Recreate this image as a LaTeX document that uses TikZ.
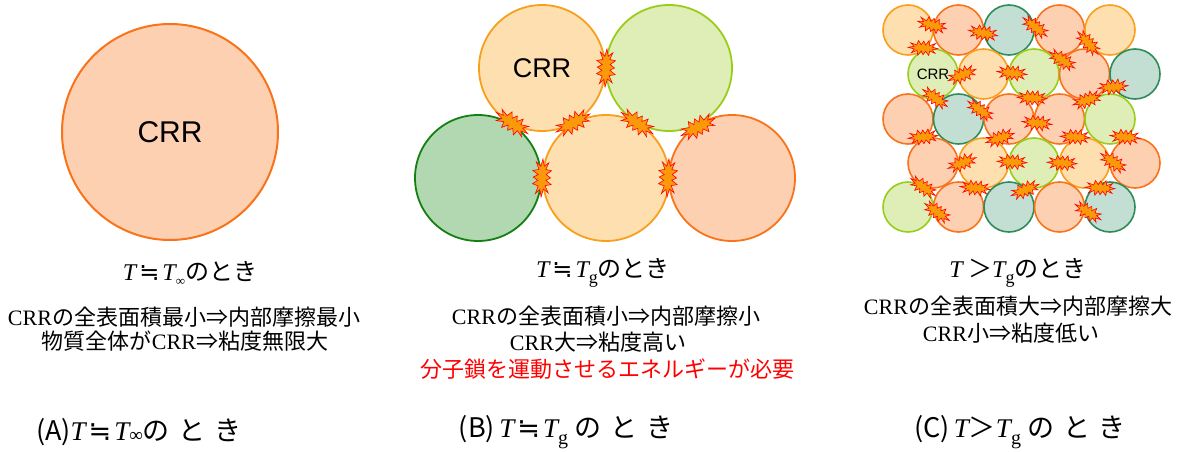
\documentclass[tikz,border=0pt]{standalone}
\usepackage{fontspec}
\setmainfont{Liberation Serif}
\newfontfamily\jp{Noto Sans CJK JP}
\newfontfamily\tms{Liberation Serif}
\newfontfamily\arialf{Liberation Sans}
\newfontfamily\djv{DejaVu Sans}
% fills (F) and outlines (D) of the region discs
\definecolor{peF}{HTML}{FDD0B2}\definecolor{peD}{HTML}{F9731A}
\definecolor{loF}{HTML}{FDDFB0}\definecolor{loD}{HTML}{F8A01C}
\definecolor{lgF}{HTML}{DFEDB6}\definecolor{lgD}{HTML}{9ACD1A}
\definecolor{grF}{HTML}{B2D8B2}\definecolor{grD}{HTML}{138013}
\definecolor{teF}{HTML}{C3DFD3}\definecolor{teD}{HTML}{2E8B5A}
\definecolor{sparkF}{HTML}{FA9A0A}
\newcommand\Tit{{\tms\itshape T}}
\newcommand\approxdot{\kern3pt{\djv ≒}\kern3pt}
\newcommand\lowsub[2]{\raisebox{#1}{\tms\fontsize{#2}{#2}\selectfont g}}
\begin{document}
\begin{tikzpicture}[x=1pt,y=-1pt,
  disc/.style={circle, inner sep=0pt, minimum size=#1, draw=\tone D, fill=\tone F},
  head/.style={font=\jp\fontsize{24}{26}\selectfont, inner sep=0pt},
  body/.style={font=\jp\fontsize{22}{24}\selectfont, inner sep=0pt},
  tag/.style={font=\jp\fontsize{27}{30}\selectfont, inner sep=0pt},
  spark/.pic={
    \filldraw[draw=red, fill=sparkF, line width=0.6pt, line join=miter]
      (1.00,0.05) -- (0.62,0.12) -- (0.80,0.36) -- (0.45,0.20) -- (0.38,0.50)
      -- (0.18,0.22) -- (0.00,0.45) -- (-0.12,0.20) -- (-0.35,0.48) -- (-0.40,0.16)
      -- (-0.78,0.32) -- (-0.58,0.07) -- (-1.00,-0.05) -- (-0.60,-0.11)
      -- (-0.82,-0.35) -- (-0.42,-0.20) -- (-0.30,-0.50) -- (-0.12,-0.22)
      -- (0.05,-0.46) -- (0.18,-0.20) -- (0.40,-0.48) -- (0.45,-0.16)
      -- (0.85,-0.30) -- (0.62,-0.06) -- cycle;
  }]
\useasboundingbox (0,0) rectangle (1184,452);

% ---- (A) one region filling the whole material
\def\tone{pe}
\node[disc=216pt, line width=2pt, font=\arialf\fontsize{30}{30}\selectfont] (a) at (170,132) {CRR};

% ---- (B) a few large regions in contact
\begin{scope}[line width=1.8pt]
\def\tone{lo}\node[disc=126pt, font=\arialf\fontsize{27}{27}\selectfont] (b1) at (542,68) {CRR};
\def\tone{lg}\node[disc=126pt] (b2) at (669,68) {};
\def\tone{gr}\node[disc=126pt] (b3) at (478,178) {};
\def\tone{lo}\node[disc=126pt] (b4) at (606,178) {};
\def\tone{pe}\node[disc=126pt] (b5) at (732,178) {};
\end{scope}
\foreach \x/\y/\a [count=\k] in {606/68/90, 512/123/-31, 573/123/31, 637/123/-31,
    698/127/30, 542/178/90, 668/178/90}
  \pic[rotate=\a, scale=19] (sb\k) at (\x,\y) {spark};

% ---- (C) many small regions
\foreach \row/\yy/\xx/\cols in {1/30/908/{lo,pe,te,pe,lo}, 2/74/933/{lg,lo,lg,pe,te},
    3/119/908/{pe,te,pe,pe,lg}, 4/163/933/{pe,lo,lg,lo,pe}, 5/207/908/{lg,pe,te,pe,te}}
  \foreach \tone [count=\col] in \cols
    \node[disc=50pt, line width=1.6pt] (c\row\col) at ({\xx+50.5*(\col-1)},\yy) {};
\node[font=\arialf\fontsize{15}{15}\selectfont, inner sep=0pt] (ccrr) at (c21) {CRR};
\foreach \x/\y/\a [count=\k] in {932/25/-12, 983/33/-8, 1035/27/-35, 923/48/0,
    1088/43/-45, 1062/60/-30, 962/75/25, 1012/73/-3, 1113/87/8, 935/98/-32,
    980/110/-33, 1032/98/0, 1087/100/22, 1037/123/-3, 923/137/8, 1000/138/21,
    1075/137/0, 1125/137/-3, 962/163/24, 1012/162/0, 1062/163/0, 1113/162/-32,
    923/187/-32, 975/188/-3, 1025/190/25, 1100/188/0, 937/212/-32, 1088/212/-28}
  \pic[rotate=\a, scale=15] (sc\k) at (\x,\y) {spark};

% ---- captions
\node[head] (ha) at (190,273) {\Tit\approxdot\Tit\raisebox{-5pt}{\tms\fontsize{13}{13}\selectfont ∞}のとき};
\node[body] (a1) at (184,317) {{\tms CRR}の全表面積最小⇒内部摩擦最小};
\node[body] (a2) at (185,341) {物質全体が{\tms CRR}⇒粘度無限大};

\node[head] (hb) at (603,273) {\Tit\approxdot\Tit\lowsub{-6pt}{18}のとき};
\node[body] (b1t) at (606,316) {{\tms CRR}の全表面積小⇒内部摩擦小};
\node[body] (b2t) at (598,342) {{\tms CRR}大⇒粘度高い};
\node[body, text=red] (b3t) at (607,369) {分子鎖を運動させるエネルギーが必要};

\node[head] (hc) at (1018,273) {\Tit\ ＞\Tit\lowsub{-6pt}{18}のとき};
\node[body] (c1t) at (1018,306) {{\tms CRR}の全表面積大⇒内部摩擦大};
\node[body] (c2t) at (1011,333) {{\tms CRR}小⇒粘度低い};

\node[tag] (ta) at (139,432) {(A)\Tit\approxdot\Tit\raisebox{-1pt}{\tms\fontsize{19}{19}\selectfont ∞}の\kern9ptと\kern9ptき};
\node[tag] (tb) at (566,432) {(B)\,\Tit\approxdot\Tit\lowsub{-7pt}{20}\kern6ptの\kern9ptと\kern9ptき};
\node[tag] (tc) at (1020,432) {(C)\,\Tit＞\Tit\lowsub{-7pt}{20}\kern6ptの\kern9ptと\kern9ptき};
\end{tikzpicture}
\end{document}
